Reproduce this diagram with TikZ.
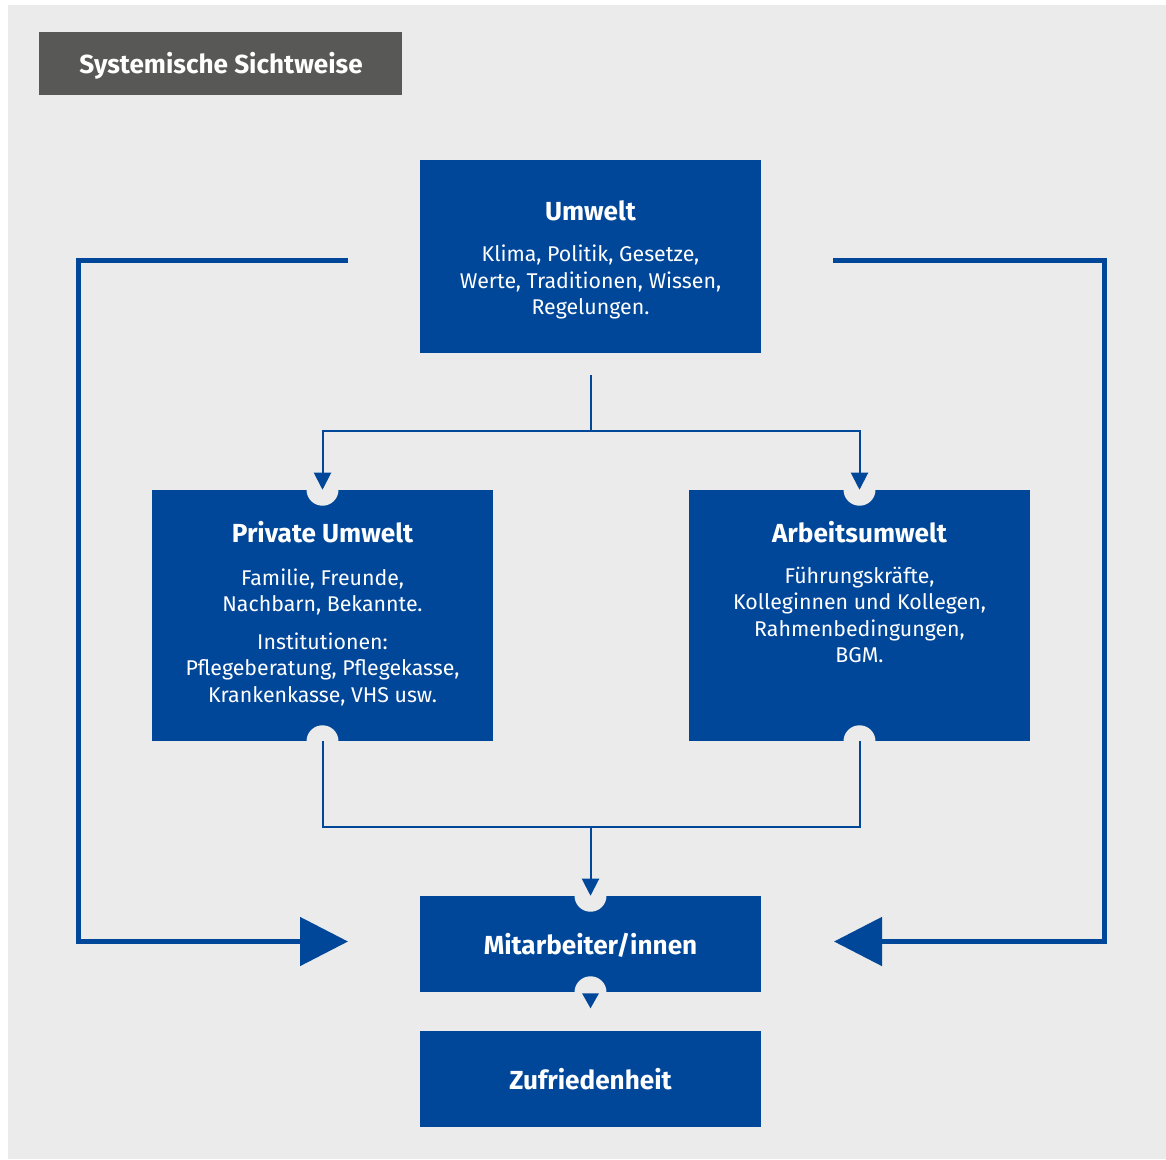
\documentclass[tikz,border=0pt]{standalone}
\usepackage{fontspec}
\setmainfont{Fira Sans}
\usetikzlibrary{arrows.meta}
\definecolor{bzblue}{HTML}{00479A}
\definecolor{bggray}{HTML}{EBEBEB}
\definecolor{titlegray}{HTML}{585856}
\begin{document}
\begin{tikzpicture}[x=0.75pt,y=-0.75pt,
 box/.style={fill=bzblue, minimum width=255.75pt, inner sep=0pt, draw=none},
 ttl/.style={text=white, font=\fontsize{19.6}{22}\selectfont\bfseries, anchor=base, inner sep=0pt},
 body/.style={text=white, font=\fontsize{16.0}{19.8}\selectfont, align=center, anchor=base, inner sep=0pt},
 notch/.style={fill=bggray, circle, minimum size=24pt, inner sep=0pt},
 thinline/.style={draw=bzblue, line width=1.5pt, line join=miter},
 thickline/.style={draw=bzblue, line width=3.75pt, line join=miter},
 smalltip/.style={-{Triangle[length=12.75pt,width=12.75pt]}},
 bigtip/.style={-{Triangle[length=36pt,width=36pt]}}
]
\useasboundingbox (0,0) rectangle (1166,1159);
\fill[bggray] (8,5) rectangle (1166,1159);

% title
\node[fill=titlegray, minimum width=272.25pt, minimum height=47.25pt, inner sep=0pt] (title) at (220.5,63.5) {};
\node[text=white, font=\fontsize{19.6}{22}\selectfont\bfseries, anchor=base, inner sep=0pt] (titletext) at (221,73.5) {Systemische Sichtweise};

% boxes
\node[box, minimum height=144.75pt] (U) at (590.5,256.5) {};
\node[box, minimum height=188.25pt] (P) at (322.5,615.5) {};
\node[box, minimum height=188.25pt] (A) at (859.5,615.5) {};
\node[box, minimum height=72pt] (M) at (590.5,944) {};
\node[box, minimum height=72pt] (Z) at (590.5,1079) {};

% notches
\node[notch] (nPn) at (P.north) {};
\node[notch] (nPs) at (P.south) {};
\node[notch] (nAn) at (A.north) {};
\node[notch] (nAs) at (A.south) {};
\node[notch] (nMn) at (M.north) {};
\node[notch] (nMs) at (M.south) {};

% texts (multi-line nodes: base = baseline of last line)
\node[ttl] (Ut) at (590.5,220) {Umwelt};
\node[body] (Ub) at (590.5,314.5) {Klima, Politik, Gesetze,\\Werte, Traditionen, Wissen,\\Regelungen.};
\node[ttl] (Pt) at (322.5,542) {Private Umwelt};
\node[body] (Pb) at (322.5,702) {Familie, Freunde,\\Nachbarn, Bekannte.\\[8.25pt]Institutionen:\\Pflegeberatung, Pflegekasse,\\Krankenkasse, VHS usw.};
\node[ttl] (At) at (859.5,542) {Arbeitsumwelt};
\node[body] (Ab) at (859.5,662.5) {Führungskräfte,\\Kolleginnen und Kollegen,\\Rahmenbedingungen,\\BGM.};
\node[ttl] (Mt) at (590.5,954.5) {Mitarbeiter/innen};
\node[ttl] (Zt) at (590.5,1089.5) {Zufriedenheit};

% thin connectors
\coordinate (u0) at (590.5,375);
\coordinate (split) at (590.5,431);
\coordinate (merge) at (590.5,827);
\draw[thinline] (u0) -- (split);
\draw[thinline, smalltip] (split) -| (P.north);
\draw[thinline, smalltip] (split) -| (A.north);
\draw[thinline] (P.south) |- (merge);
\draw[thinline] (A.south) |- (merge);
\draw[thinline, smalltip] (merge) -- (M.north);
\fill[bzblue] (M.south) ++(-8.5,1) -- ++(17,0) -- ++(-8.5,15) -- cycle;

% feedback loops
\coordinate (lstart) at (348,260);
\coordinate (lend) at (348,941.5);
\coordinate (rstart) at (833,260);
\coordinate (rend) at (834,941.5);
\draw[thickline, bigtip] (lstart) -- ++(-270,0) |- (lend);
\draw[thickline, bigtip] (rstart) -- ++(271,0) |- (rend);
\end{tikzpicture}
\end{document}
